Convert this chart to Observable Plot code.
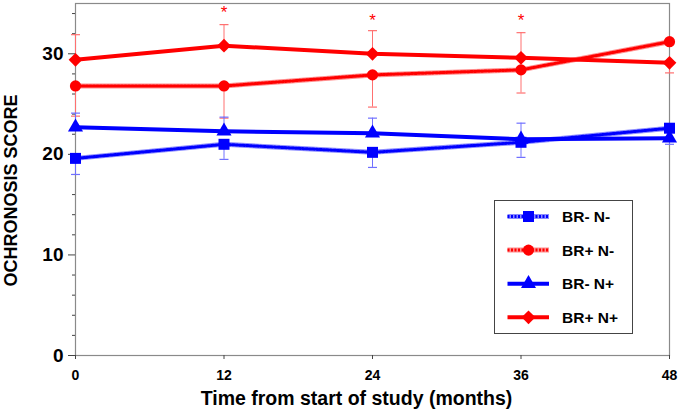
<!DOCTYPE html>
<html>
<head>
<meta charset="utf-8">
<script src="https://cdn.jsdelivr.net/npm/d3@7"></script>
<script src="https://cdn.jsdelivr.net/npm/@observablehq/plot@0.6"></script>
<style>
  html, body { margin: 0; padding: 0; background: #fff; }
  #wrap { position: relative; width: 679px; height: 415px; font-family: "Liberation Sans", Arial, sans-serif; }
  #legend { position: absolute; left: 494px; top: 200px; width: 137px; height: 132px; border: 1px solid #444; background: #fff; }
</style>
</head>
<body>
<div id="wrap"><div id="chart"></div><div id="legend"></div></div>
<script>
// ---- data ----
const months = [0, 12, 24, 36, 48];
const seriesNames = ["BR- N-", "BR+ N-", "BR- N+", "BR+ N+"];
const seriesColors = ["#0000ff", "#ff0000", "#0000ff", "#ff0000"];
const seriesSymbols = ["square", "circle", "triangle", "diamond2"];
const seriesDotted = [true, true, false, false];
const brMnM = [19.6, 21.0, 20.2, 21.2, 22.6];
const brPnM = [26.8, 26.8, 27.9, 28.4, 31.2];
const brMnP = [22.7, 22.3, 22.1, 21.5, 21.6];
const brPnP = [29.4, 30.8, 30.0, 29.6, 29.1];
// error bar ends (one-sided, as drawn)
const errMnM = [18.0, 19.5, 18.7, 19.7, null];
const errPnM = [23.8, 23.6, 24.7, 26.1, null];
const errMnP = [24.1, 23.7, 23.6, 23.1, 21.0];
const errPnP = [31.9, 32.9, 32.3, 32.1, 28.1];
const starMonths = [12, 24, 36];
const starY = [34.1, 33.3, 33.3];
const yMajor = [0, 10, 20, 30];
const yMinor = [2, 4, 6, 8, 12, 14, 16, 18, 22, 24, 26, 28, 32, 34];
const xTicks = [0, 12, 24, 36, 48];

const values = [brMnM, brPnM, brMnP, brPnP];
const errs = [errMnM, errPnM, errMnP, errPnP];

const rows = [];
const errRows = [];
values.forEach((vals, s) => {
  vals.forEach((v, i) => {
    rows.push({series: seriesNames[s], s, month: months[i], value: v});
    if (errs[s][i] != null) errRows.push({series: seriesNames[s], s, month: months[i], value: v, end: errs[s][i]});
  });
});
const stars = starMonths.map((m, i) => ({month: m, y: starY[i]}));

const capSymbol = {
  draw(context, size) {
    const w = 4.5;
    context.moveTo(-w, 0);
    context.lineTo(w, 0);
  }
};

const marks = [];
// error bars
[0, 1, 2, 3].forEach(s => {
  const light = s % 2 === 1 ? "#ff7070" : "#7070ff";
  const d = errRows.filter(r => r.s === s);
  marks.push(Plot.ruleX(d, {x: "month", y1: "value", y2: "end", stroke: light, strokeWidth: 1}));
  marks.push(Plot.dot(d, {x: "month", y: "end", symbol: capSymbol, stroke: light, strokeWidth: 1.2, r: 4}));
});
// lines
[0, 1, 2, 3].forEach(s => {
  const d = rows.filter(r => r.s === s);
  const c = seriesColors[s];
  if (seriesDotted[s]) {
    marks.push(Plot.line(d, {x: "month", y: "value", stroke: c, strokeWidth: 5, strokeOpacity: 0.45}));
    marks.push(Plot.line(d, {x: "month", y: "value", stroke: c, strokeWidth: 3, strokeDasharray: "2,1.5"}));
  } else {
    marks.push(Plot.line(d, {x: "month", y: "value", stroke: c, strokeWidth: 4}));
  }
});
// markers
[0, 1, 2, 3].forEach(s => {
  const d = rows.filter(r => r.s === s);
  const rr = [6.2, 5.6, 5.6, 6.2][s];
  marks.push(Plot.dot(d, {x: "month", y: "value", symbol: seriesSymbols[s], fill: seriesColors[s], r: rr}));
});

const chart = Plot.plot({
  width: 679,
  height: 415,
  marginLeft: 75,
  marginRight: 10,
  marginTop: 3,
  marginBottom: 60,
  style: {fontFamily: "Liberation Sans, Arial, sans-serif", fontWeight: "bold", color: "#000", background: "#fff"},
  x: {domain: [0, 48]},
  y: {domain: [0, 35]},
  marks: [
    Plot.frame({stroke: "#8a8a8a", strokeWidth: 1.2}),
    Plot.axisY({ticks: yMinor, tickSize: 3, text: null, label: null, stroke: "#444"}),
    Plot.axisY({ticks: yMajor, tickSize: 7, tickPadding: 5, fontSize: 19, label: null, stroke: "#444", tickFormat: d => d}),
    Plot.axisX({ticks: xTicks, tickSize: 4, tickPadding: 11, fontSize: 14, label: null, stroke: "#444", tickFormat: d => d}),
    ...marks,
    Plot.text(stars, {x: "month", y: "y", text: () => "*", fill: "#ff0000", fontSize: 17, fontWeight: "normal"}),
    Plot.text(["Time from start of study (months)"], {frameAnchor: "bottom", dy: 49, dx: -16, fontSize: 19.5, fill: "#000"}),
    Plot.text(["OCHRONOSIS SCORE"], {frameAnchor: "left", textAnchor: "middle", rotate: -90, dx: -64, dy: 11, fontSize: 18, fill: "#000"})
  ]
});
document.getElementById("chart").appendChild(chart);

// ---- legend (HTML overlay with d3-drawn swatches) ----
const leg = d3.select("#legend").append("svg").attr("width", 137).attr("height", 132)
  .style("font-family", "Liberation Sans, Arial, sans-serif").style("font-weight", "bold");
const symMap = {square: d3.symbolSquare, circle: d3.symbolCircle, triangle: d3.symbolTriangle, diamond2: d3.symbolDiamond2};
seriesNames.forEach((name, s) => {
  const g = leg.append("g").attr("transform", `translate(0, ${15.5 + s * 33.6})`);
  const c = seriesColors[s];
  if (seriesDotted[s]) {
    g.append("line").attr("x1", 12.5).attr("x2", 54).attr("stroke", c).attr("stroke-width", 5).attr("stroke-opacity", 0.45);
    g.append("line").attr("x1", 12.5).attr("x2", 54).attr("stroke", c).attr("stroke-width", 3).attr("stroke-dasharray", "2,1.5");
  } else {
    g.append("line").attr("x1", 12.5).attr("x2", 54).attr("stroke", c).attr("stroke-width", 4);
  }
  const rr = [6.2, 5.6, 5.6, 6.2][s];
  g.append("path").attr("transform", "translate(33.5,0)")
    .attr("d", d3.symbol(symMap[seriesSymbols[s]], Math.PI * rr * rr)()).attr("fill", c);
  g.append("text").attr("x", 67).attr("y", 0).attr("dy", "0.36em").attr("font-size", 15.5).attr("fill", "#000").text(name);
});
</script>
</body>
</html>
